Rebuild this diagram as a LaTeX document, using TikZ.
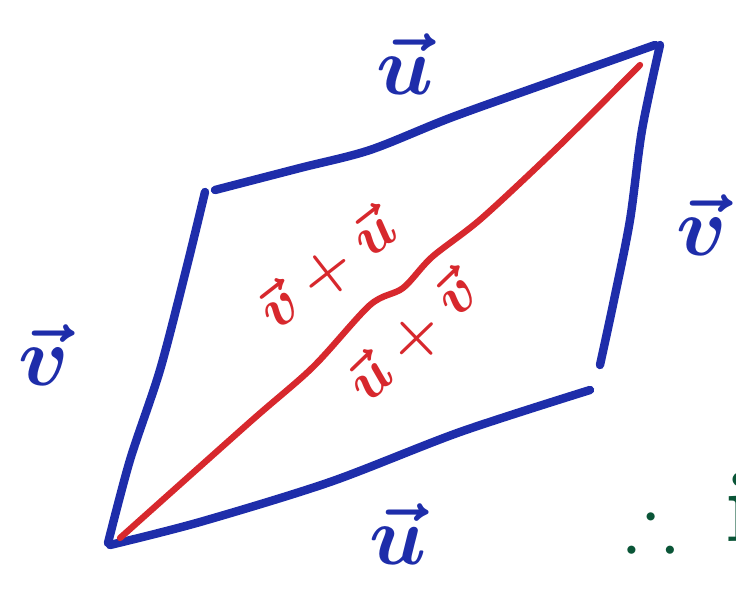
\documentclass[tikz,border=0pt]{standalone}
\usepackage{amsmath}
\usepackage{amssymb}
\usetikzlibrary{calc}

\definecolor{penblue}{RGB}{30,45,170}
\definecolor{penred}{RGB}{215,40,45}
\definecolor{pengreen}{RGB}{10,85,55}

\begin{document}
\begin{tikzpicture}[
    x=0.025cm, y=-0.025cm,
    line cap=round,
    line join=round,
    side/.style={penblue, line width=6pt},
    diagonal/.style={penred, line width=4.5pt},
    side label/.style={penblue, font=\Huge\boldmath, scale=2.4},
    sum label/.style={penred, font=\Huge\boldmath, scale=1.7},
    conclusion/.style={pengreen, font=\Huge\boldmath, scale=2.2}
]

\useasboundingbox (0,0) rectangle (736,593);

% -------------------------------------------------
% Parallelogram sides
% -------------------------------------------------

% Top side u
\draw[side]
    plot[smooth] coordinates {
        (215,190)
        (300,168)
        (370,150)
        (450,118)
        (545,84)
        (655,45)
    };

% Right side v
\draw[side]
    plot[smooth] coordinates {
        (660,45)
        (642,130)
        (630,220)
        (614,300)
        (600,365)
    };

% Left side v
\draw[side]
    plot[smooth] coordinates {
        (205,192)
        (186,270)
        (160,370)
        (130,460)
        (108,543)
    };

% Bottom side u
\draw[side]
    plot[smooth] coordinates {
        (110,545)
        (200,522)
        (330,482)
        (460,432)
        (590,390)
    };

% -------------------------------------------------
% Diagonal u + v
% -------------------------------------------------

\draw[diagonal]
    plot[smooth] coordinates {
        (120,538)
        (250,422)
        (313,367)
        (370,305)
        (403,288)
        (432,257)
        (482,218)
        (560,145)
        (640,65)
    };

% -------------------------------------------------
% Labels
% -------------------------------------------------

\node[side label] (utop) at (405,64) {$\vec{u}$};
\node[side label] (vright) at (702,225) {$\vec{v}$};
\node[side label] (vleft) at (44,355) {$\vec{v}$};
\node[side label] (ubottom) at (398,534) {$\vec{u}$};

\node[sum label, rotate=38] (vu) at (328,270) {$\vec{v}+\vec{u}$};
\node[sum label, rotate=44] (uv) at (413,338) {$\vec{u}+\vec{v}$};

% Conclusion, cut at the page edge
\node[conclusion] (therefore) at (651,522) {$\therefore$};
\node[conclusion, font=\Huge\bfseries, scale=2.9/2.2, inner sep=0pt,
      anchor=base west]
    (concl) at (724,541) {i};

\end{tikzpicture}
\end{document}
